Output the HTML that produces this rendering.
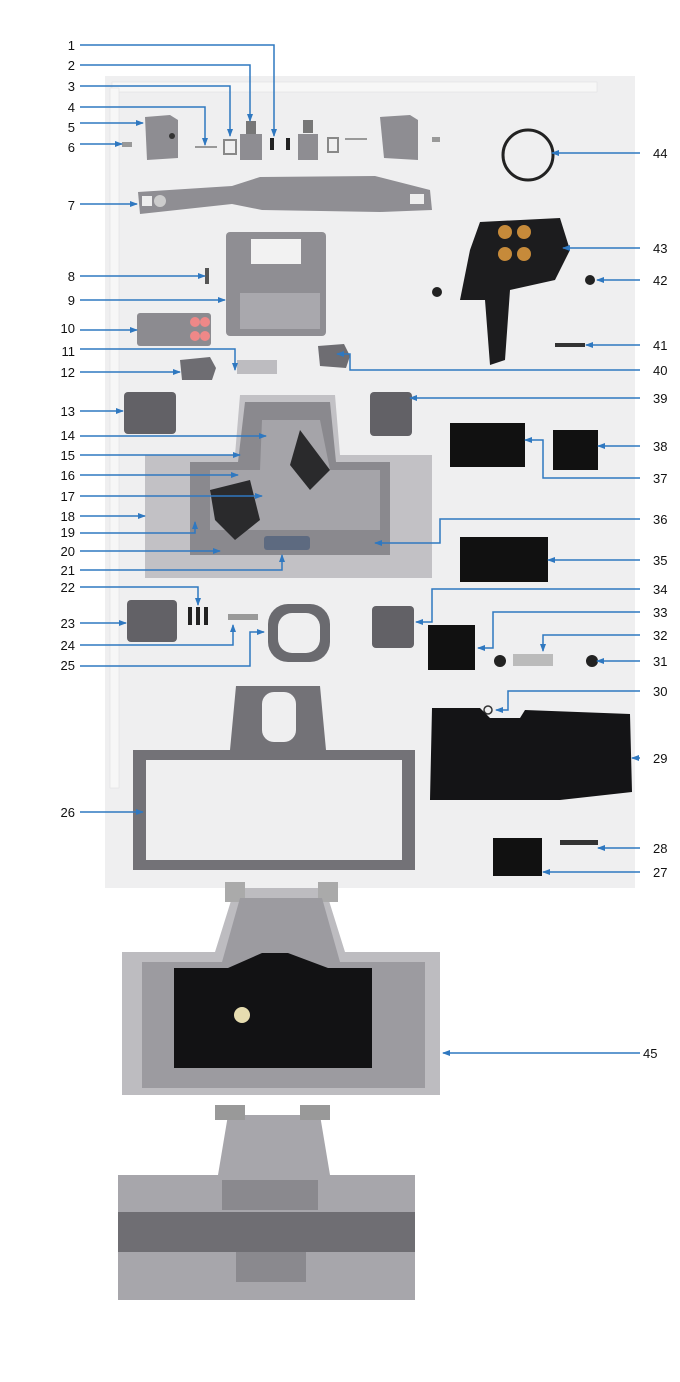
<!DOCTYPE html>
<html><head><meta charset="utf-8"><style>
html,body{margin:0;padding:0;background:#fff;width:680px;height:1382px;overflow:hidden}
svg{display:block}
text{font-family:"Liberation Sans",sans-serif;font-size:13px;fill:#111}
</style></head><body>
<svg width="680" height="1382" viewBox="0 0 680 1382" xmlns="http://www.w3.org/2000/svg">
<defs>
<marker id="a" markerWidth="8" markerHeight="8" refX="7" refY="4" orient="auto" markerUnits="userSpaceOnUse"><path d="M0,1 L8,4 L0,7 z" fill="#2f78c0"/></marker>
</defs>
<!-- photo bg -->
<rect x="105" y="76" width="530" height="812" fill="#efeff0"/>
<rect x="112" y="82" width="485" height="10" fill="#f7f7f7" stroke="#ddd" stroke-width="0.5"/>
<rect x="110" y="88" width="9" height="700" fill="#f7f7f7" stroke="#ddd" stroke-width="0.5"/>
<!-- top small parts -->
<path d="M145,117 L170,115 L178,120 L178,158 L147,160 Z" fill="#8e8d92"/>
<circle cx="172" cy="136" r="3" fill="#333"/>
<path d="M380,117 L410,115 L418,120 L418,160 L384,158 Z" fill="#8e8d92"/>
<rect x="195" y="146" width="22" height="2" fill="#999"/>
<rect x="345" y="138" width="22" height="2" fill="#999"/>
<rect x="224" y="140" width="12" height="14" fill="none" stroke="#888" stroke-width="2"/>
<rect x="240" y="134" width="22" height="26" fill="#8e8d92"/><rect x="246" y="121" width="10" height="13" fill="#777"/>
<rect x="298" y="134" width="20" height="26" fill="#8e8d92"/><rect x="303" y="120" width="10" height="13" fill="#777"/>
<rect x="270" y="138" width="4" height="12" fill="#222"/><rect x="286" y="138" width="4" height="12" fill="#222"/>
<rect x="328" y="138" width="10" height="14" fill="none" stroke="#888" stroke-width="2"/>
<rect x="122" y="142" width="10" height="5" fill="#999"/><rect x="432" y="137" width="8" height="5" fill="#999"/>
<!-- 7 handle -->
<path d="M138,192 L232,186 L260,177 L375,176 L430,190 L432,210 L380,212 L262,210 L232,204 L140,214 Z" fill="#8f8e93"/>
<rect x="142" y="196" width="10" height="10" fill="#eee"/><circle cx="160" cy="201" r="6" fill="#ccc"/>
<rect x="410" y="194" width="14" height="10" fill="#eee"/>
<!-- 9 -->
<rect x="226" y="232" width="100" height="104" rx="4" fill="#8f8e93"/>
<rect x="251" y="239" width="50" height="25" fill="#f2f2f2"/>
<rect x="240" y="293" width="80" height="36" fill="#a9a8ad"/>
<rect x="205" y="268" width="4" height="16" fill="#555"/>
<!-- 10 label -->
<rect x="137" y="313" width="74" height="33" rx="3" fill="#8c8b90"/>
<circle cx="195" cy="322" r="5" fill="#e88"/><circle cx="205" cy="322" r="5" fill="#e88"/><circle cx="195" cy="336" r="5" fill="#e88"/><circle cx="205" cy="336" r="5" fill="#e88"/>
<!-- 11,12,40 -->
<rect x="237" y="360" width="40" height="14" fill="#bdbcc0"/>
<path d="M180,360 L210,357 L216,368 L212,380 L182,380 Z" fill="#6e6d72"/>
<path d="M318,346 L344,344 L350,356 L346,368 L320,366 Z" fill="#6e6d72"/>
<!-- vents 13,39,23,34 -->
<rect x="124" y="392" width="52" height="42" rx="4" fill="#626166"/>
<rect x="370" y="392" width="42" height="44" rx="4" fill="#626166"/>
<rect x="127" y="600" width="50" height="42" rx="4" fill="#626166"/>
<rect x="372" y="606" width="42" height="42" rx="4" fill="#626166"/>
<!-- 18 main tray -->
<path d="M145,455 L235,455 L240,395 L335,395 L340,455 L432,455 L432,578 L145,578 Z" fill="#c2c1c5"/>
<path d="M190,462 L238,462 L245,402 L330,402 L336,462 L390,462 L390,555 L190,555 Z" fill="#8a898e"/>
<path d="M210,470 L260,470 L262,420 L320,420 L330,470 L380,470 L380,530 L210,530 Z" fill="#a5a4a9"/>
<path d="M210,490 L250,480 L260,520 L235,540 L215,520 Z" fill="#2a2a2c"/>
<path d="M300,430 L330,470 L310,490 L290,465 Z" fill="#2a2a2c"/>
<rect x="264" y="536" width="46" height="14" rx="3" fill="#5d6a80"/>
<!-- 22,24,25 -->
<rect x="188" y="607" width="4" height="18" fill="#222"/><rect x="196" y="607" width="4" height="18" fill="#222"/><rect x="204" y="607" width="4" height="18" fill="#222"/>
<rect x="228" y="614" width="30" height="6" fill="#999"/>
<rect x="268" y="604" width="62" height="58" rx="20" fill="#6a6a6f"/><rect x="278" y="613" width="42" height="40" rx="14" fill="#efeff0"/>
<!-- 26 frame -->
<path d="M133,750 L230,750 L236,686 L320,686 L326,750 L415,750 L415,870 L133,870 Z" fill="#737277"/>
<rect x="146" y="760" width="256" height="100" fill="#efeff0"/>
<rect x="262" y="692" width="34" height="50" rx="12" fill="#efeff0"/>
<!-- right parts -->
<circle cx="528" cy="155" r="25" fill="none" stroke="#222" stroke-width="3"/>
<path d="M480,222 L560,218 L570,250 L555,280 L510,290 L505,360 L490,365 L485,300 L460,300 L470,250 Z" fill="#1c1c1e"/>
<circle cx="505" cy="232" r="7" fill="#c68a3a"/><circle cx="524" cy="232" r="7" fill="#c68a3a"/><circle cx="505" cy="254" r="7" fill="#c68a3a"/><circle cx="524" cy="254" r="7" fill="#c68a3a"/>
<circle cx="437" cy="292" r="5" fill="#222"/><circle cx="590" cy="280" r="5" fill="#222"/>
<rect x="555" y="343" width="30" height="4" fill="#333"/>
<rect x="450" y="423" width="75" height="44" fill="#111"/>
<rect x="553" y="430" width="45" height="40" fill="#111"/>
<rect x="460" y="537" width="88" height="45" fill="#111"/>
<rect x="428" y="625" width="47" height="45" fill="#111"/>
<circle cx="500" cy="661" r="6" fill="#222"/><rect x="513" y="654" width="40" height="12" fill="#bbb"/><circle cx="592" cy="661" r="6" fill="#222"/>
<circle cx="488" cy="710" r="4" fill="none" stroke="#333" stroke-width="1.5"/>
<path d="M432,708 L480,708 L490,718 L520,718 L525,710 L630,714 L632,792 L560,800 L430,800 Z" fill="#141416"/>
<rect x="560" y="840" width="38" height="5" fill="#333"/>
<rect x="493" y="838" width="49" height="38" fill="#111"/>
<!-- 45 bottom photo 1 -->
<path d="M122,952 L215,952 L235,888 L325,888 L345,952 L440,952 L440,1095 L122,1095 Z" fill="#bdbcc0"/>
<rect x="225" y="882" width="20" height="20" fill="#aaa"/><rect x="318" y="882" width="20" height="20" fill="#aaa"/>
<path d="M142,962 L222,962 L240,898 L322,898 L340,962 L425,962 L425,1088 L142,1088 Z" fill="#9c9ba0"/>
<path d="M174,968 L228,968 L262,953 L288,953 L328,968 L372,968 L372,1068 L174,1068 Z" fill="#121214"/>
<circle cx="242" cy="1015" r="8" fill="#e6dcb0"/>
<!-- bottom photo 2 -->
<path d="M118,1175 L218,1175 L228,1115 L320,1115 L330,1175 L415,1175 L415,1300 L118,1300 Z" fill="#a7a6ab"/>
<rect x="215" y="1105" width="30" height="15" fill="#999"/><rect x="300" y="1105" width="30" height="15" fill="#999"/>
<rect x="118" y="1212" width="297" height="40" fill="#6f6e73"/>
<rect x="222" y="1180" width="96" height="30" fill="#8a898e"/>
<rect x="236" y="1252" width="70" height="30" fill="#8a898e"/>
<!-- connectors -->
<g stroke="#2f78c0" stroke-width="1.5" fill="none" marker-end="url(#a)">
<polyline points="80,45 274,45 274,136"/>
<polyline points="80,65 250,65 250,121"/>
<polyline points="80,86 230,86 230,136"/>
<polyline points="80,107 205,107 205,145"/>
<polyline points="80,123 143,123"/>
<polyline points="80,144 122,144"/>
<polyline points="80,204 137,204"/>
<polyline points="80,276 205,276"/>
<polyline points="80,300 225,300"/>
<polyline points="80,330 137,330"/>
<polyline points="80,349 235,349 235,370"/>
<polyline points="80,372 180,372"/>
<polyline points="80,411 123,411"/>
<polyline points="80,436 266,436"/>
<polyline points="80,455 240,455"/>
<polyline points="80,475 238,475"/>
<polyline points="80,496 262,496"/>
<polyline points="80,516 145,516"/>
<polyline points="80,533 195,533 195,522"/>
<polyline points="80,551 220,551"/>
<polyline points="80,570 282,570 282,555"/>
<polyline points="80,587 198,587 198,605"/>
<polyline points="80,623 126,623"/>
<polyline points="80,645 233,645 233,625"/>
<polyline points="80,666 250,666 250,632 264,632"/>
<polyline points="80,812 143,812"/>
<polyline points="640,153 552,153"/>
<polyline points="640,248 563,248"/>
<polyline points="640,280 597,280"/>
<polyline points="640,345 586,345"/>
<polyline points="640,370 350,370 350,354 337,354"/>
<polyline points="640,398 410,398"/>
<polyline points="640,446 598,446"/>
<polyline points="640,478 543,478 543,440 525,440"/>
<polyline points="640,519 440,519 440,543 375,543"/>
<polyline points="640,560 548,560"/>
<polyline points="640,589 432,589 432,622 416,622"/>
<polyline points="640,612 493,612 493,648 478,648"/>
<polyline points="640,635 543,635 543,651"/>
<polyline points="640,661 597,661"/>
<polyline points="640,691 508,691 508,710 496,710"/>
<polyline points="640,758 632,758"/>
<polyline points="640,848 598,848"/>
<polyline points="640,872 543,872"/>
<polyline points="640,1053 443,1053"/>
</g>
<g text-anchor="end">
<text x="75" y="50">1</text><text x="75" y="70">2</text><text x="75" y="91">3</text><text x="75" y="112">4</text><text x="75" y="132">5</text><text x="75" y="152">6</text><text x="75" y="210">7</text><text x="75" y="281">8</text><text x="75" y="305">9</text><text x="75" y="333">10</text><text x="75" y="356">11</text><text x="75" y="377">12</text><text x="75" y="416">13</text><text x="75" y="440">14</text><text x="75" y="460">15</text><text x="75" y="480">16</text><text x="75" y="501">17</text><text x="75" y="521">18</text><text x="75" y="537">19</text><text x="75" y="556">20</text><text x="75" y="575">21</text><text x="75" y="592">22</text><text x="75" y="628">23</text><text x="75" y="650">24</text><text x="75" y="670">25</text><text x="75" y="817">26</text>
</g>
<g>
<text x="653" y="158">44</text><text x="653" y="253">43</text><text x="653" y="285">42</text><text x="653" y="350">41</text><text x="653" y="375">40</text><text x="653" y="403">39</text><text x="653" y="451">38</text><text x="653" y="483">37</text><text x="653" y="524">36</text><text x="653" y="565">35</text><text x="653" y="594">34</text><text x="653" y="617">33</text><text x="653" y="640">32</text><text x="653" y="666">31</text><text x="653" y="696">30</text><text x="653" y="763">29</text><text x="653" y="853">28</text><text x="653" y="877">27</text><text x="643" y="1058">45</text>
</g>
</svg>
</body></html>
